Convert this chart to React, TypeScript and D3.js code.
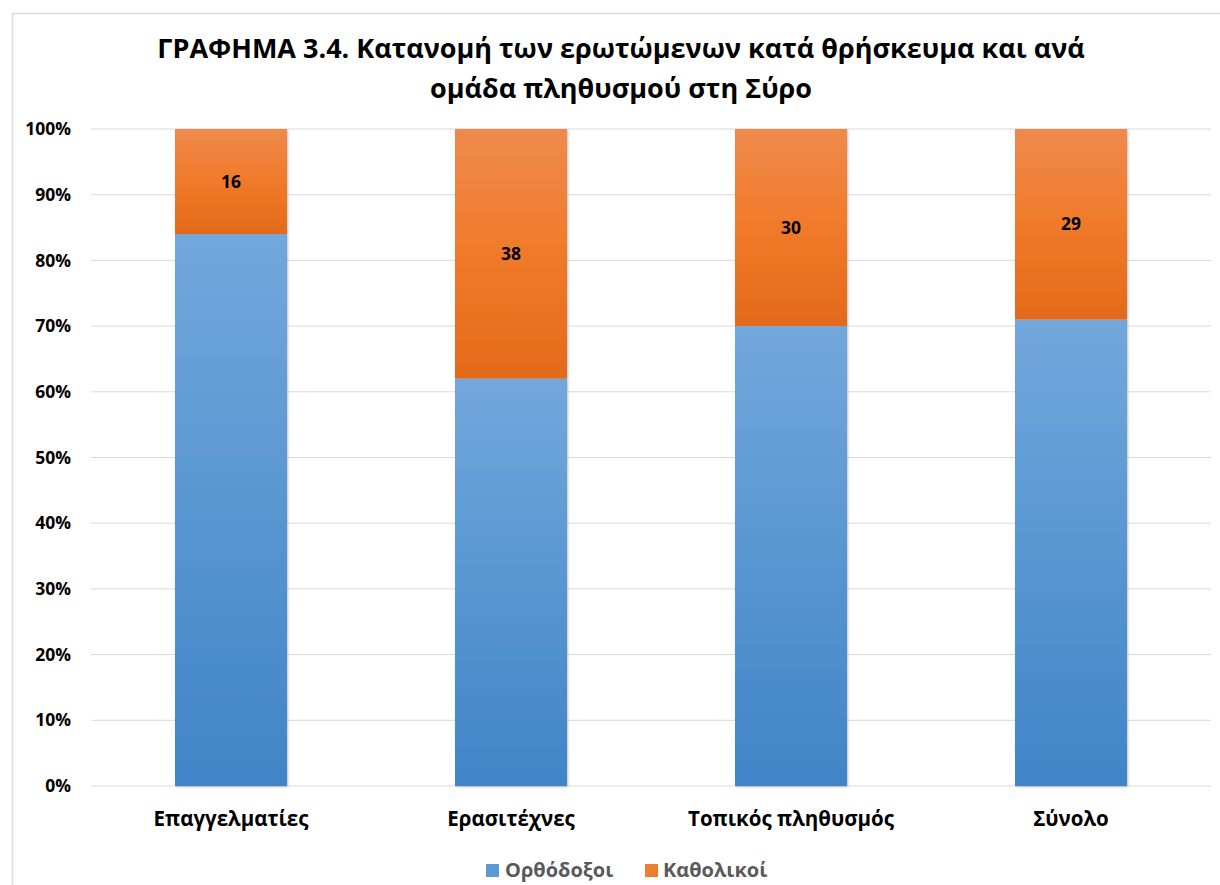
import React from "react";
import * as d3 from "d3";

const categories = ["Επαγγελματίες", "Ερασιτέχνες", "Τοπικός πληθυσμός", "Σύνολο"];
const orthodox = [84, 62, 70, 71];
const catholic = [16, 38, 30, 29];
const seriesNames = ["Ορθόδοξοι", "Καθολικοί"];
const yTicks = [0, 10, 20, 30, 40, 50, 60, 70, 80, 90, 100];
const titleLines = [
  "ΓΡΑΦΗΜΑ 3.4. Κατανομή των ερωτώμενων κατά θρήσκευμα και ανά",
  "ομάδα πληθυσμού στη Σύρο",
];

const W = 1220;
const H = 885;
const FONT = "'Open Sans', 'Noto Sans', sans-serif";

export default function App() {
  const x = d3.scaleBand<string>().domain(categories).range([91, 1211]).paddingInner(0.6).paddingOuter(0.3);
  const y = d3.scaleLinear().domain([0, 100]).range([786, 129]);
  const rows = categories.map((c, i) => ({ cat: c, o: orthodox[i], k: catholic[i] }));
  const stack = d3.stack<any>().keys(["o", "k"])(rows as any);
  const fills = ["url(#gBlue)", "url(#gOrange)"];

  return (
    <svg width={W} height={H} style={{ position: "absolute", left: 0, top: 0, background: "#fff" }} fontFamily={FONT}>
      <defs>
        <linearGradient id="gBlue" x1="0" y1="0" x2="0" y2="1">
          <stop offset="0" stopColor="#72a7dc" />
          <stop offset="1" stopColor="#3f85c7" />
        </linearGradient>
        <linearGradient id="gOrange" x1="0" y1="0" x2="0" y2="1">
          <stop offset="0" stopColor="#ef8a4c" />
          <stop offset="0.5" stopColor="#f07a2a" />
          <stop offset="1" stopColor="#e26a1a" />
        </linearGradient>
        <filter id="shadow" x="-10%" y="-5%" width="120%" height="110%">
          <feDropShadow dx="1" dy="1" stdDeviation="1.2" floodColor="#000" floodOpacity="0.25" />
        </filter>
      </defs>
      <rect x={12.5} y={13.5} width={W} height={H} fill="none" stroke="#d9d9d9" strokeWidth={1.5} />
      {titleLines.map((t, i) => (
        <text key={i} x={621} y={58 + i * 40} textAnchor="middle" fontSize={27} fontWeight="bold" fill="#000">
          {t}
        </text>
      ))}
      {yTicks.map((t) => (
        <g key={t}>
          <line x1={91} x2={1211} y1={y(t)} y2={y(t)} stroke="#d9d9d9" strokeWidth={1} />
          <text x={71} y={y(t)} dy="0.35em" textAnchor="end" fontSize={17.5} fontWeight="bold" fill="#000">
            {t}%
          </text>
        </g>
      ))}
      <g filter="url(#shadow)">
        {stack.map((s, si) =>
          s.map((d, i) => (
            <rect
              key={si + "-" + i}
              x={x(categories[i])}
              width={x.bandwidth()}
              y={y(d[1])}
              height={y(d[0]) - y(d[1])}
              fill={fills[si]}
            />
          ))
        )}
      </g>
      {stack[1].map((d, i) => (
        <text
          key={"l" + i}
          x={(x(categories[i]) as number) + x.bandwidth() / 2}
          y={y((d[0] + d[1]) / 2)}
          dy="0.35em"
          textAnchor="middle"
          fontSize={17.5}
          fontWeight="bold"
          fill="#000"
        >
          {catholic[i]}
        </text>
      ))}
      {categories.map((c) => (
        <text
          key={c}
          x={(x(c) as number) + x.bandwidth() / 2}
          y={819}
          dy="0.35em"
          textAnchor="middle"
          fontSize={20.5}
          fontWeight="bold"
          fill="#000"
        >
          {c}
        </text>
      ))}
      <g>
        <rect x={486} y={864} width={13} height={13} fill="#5b9bd5" />
        <text x={505} y={870} dy="0.35em" fontSize={20} fontWeight="bold" fill="#595959">
          {seriesNames[0]}
        </text>
        <rect x={645} y={864} width={13} height={13} fill="#ed7d31" />
        <text x={663} y={870} dy="0.35em" fontSize={20} fontWeight="bold" fill="#595959">
          {seriesNames[1]}
        </text>
      </g>
    </svg>
  );
}
